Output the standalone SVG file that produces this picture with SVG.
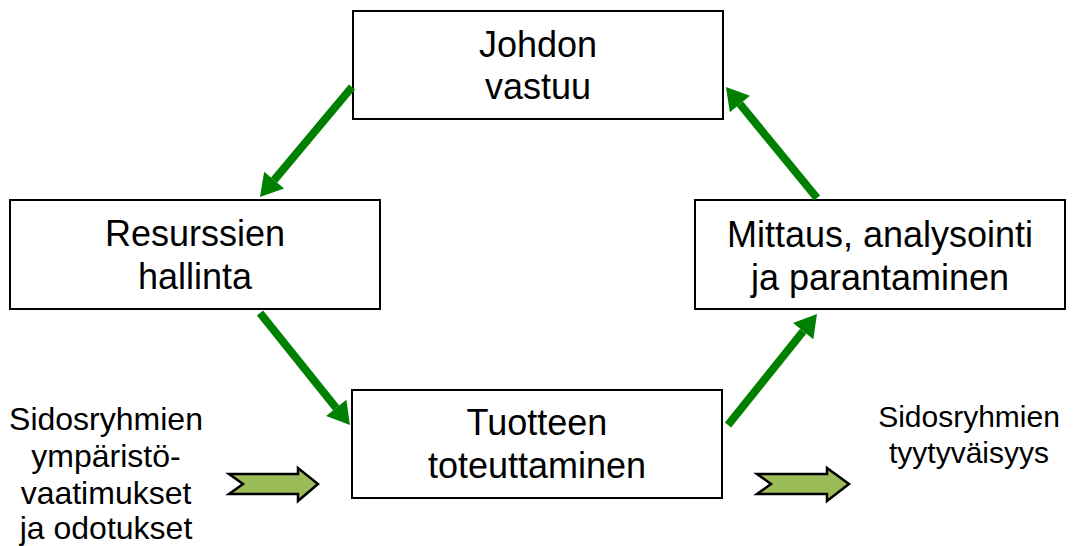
<svg xmlns="http://www.w3.org/2000/svg" width="1075" height="546" viewBox="0 0 1075 546">
<style>
.box{fill:#fff;stroke:#000;stroke-width:2}
.t{font-family:"Liberation Sans",Arial,sans-serif;font-size:36px;fill:#000;text-anchor:middle}
.s{font-family:"Liberation Sans",Arial,sans-serif;fill:#000;text-anchor:middle}
.c{stroke:#008000;stroke-width:8;fill:none;marker-end:url(#ah)}
.blk{fill:#9BBB59;stroke:#000;stroke-width:2.5;stroke-linejoin:miter}
</style>
<defs>
<marker id="ah" markerUnits="userSpaceOnUse" markerWidth="22" markerHeight="26" refX="0" refY="13" orient="auto" overflow="visible">
<path d="M0,0 L22,13 L0,26 z" fill="#008000"/>
</marker>
</defs>
<rect width="1075" height="546" fill="#fff"/>
<g id="johdon">
<rect class="box" x="353" y="11" width="370" height="108"/>
<text class="t" x="538" y="57">Johdon</text>
<text class="t" x="538" y="99">vastuu</text>
</g>
<g id="resurssien">
<rect class="box" x="10" y="200" width="370" height="109"/>
<text class="t" x="195" y="246">Resurssien</text>
<text class="t" x="195" y="289">hallinta</text>
</g>
<g id="tuotteen">
<rect class="box" x="352" y="390" width="370" height="108"/>
<text class="t" x="537" y="435">Tuotteen</text>
<text class="t" x="537" y="478">toteuttaminen</text>
</g>
<g id="mittaus">
<rect class="box" x="695" y="200" width="370" height="109"/>
<text class="t" x="880" y="247">Mittaus, analysointi</text>
<text class="t" x="880" y="290">ja parantaminen</text>
</g>
<g id="input">
<text class="s" font-size="32" x="106" y="430">Sidosryhmien</text>
<text class="s" font-size="32" x="106" y="467">ympäristö-</text>
<text class="s" font-size="32" x="106" y="504">vaatimukset</text>
<text class="s" font-size="32" x="106" y="539">ja odotukset</text>
<polygon class="blk" points="229,474 298,474 298,468 318,484 298,501 298,494 229,494 243,484"/>
</g>
<g id="output">
<text class="s" font-size="30" x="969" y="427">Sidosryhmien</text>
<text class="s" font-size="30" x="969" y="463">tyytyväisyys</text>
<polygon class="blk" points="757,474 827,474 827,468 849,484 827,501 827,494 757,494 771,484"/>
</g>
<g id="connectors">
<line class="c" x1="352" y1="87" x2="274.1" y2="180.1"/>
<line class="c" x1="260" y1="313" x2="336.2" y2="407.9"/>
<line class="c" x1="728" y1="425" x2="803.2" y2="331.2"/>
<line class="c" x1="817" y1="198" x2="739.9" y2="104"/>
</g>
</svg>
